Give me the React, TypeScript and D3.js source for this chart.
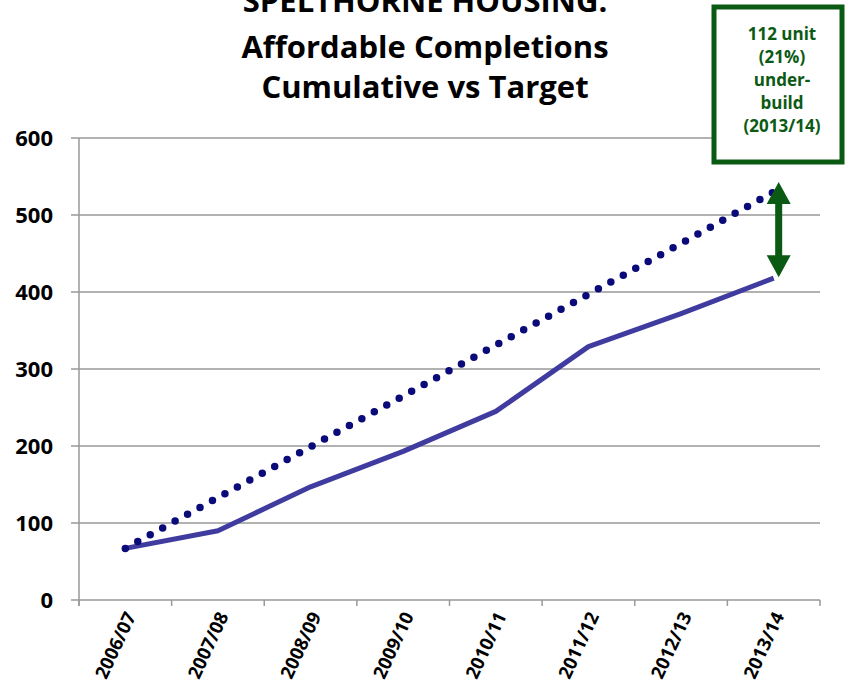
import React from "react";
import * as d3 from "d3";

const categories = ["2006/07", "2007/08", "2008/09", "2009/10", "2010/11", "2011/12", "2012/13", "2013/14"];
const actualValues = [67, 90, 147, 193, 245, 329, 372, 418];
const targetValues = [67, 133, 199, 265, 331, 397, 463, 530];
const yTicks = [0, 100, 200, 300, 400, 500, 600];
const titleLines = ["SPELTHORNE HOUSING:", "Affordable Completions", "Cumulative vs Target"];
const noteLines = ["112 unit", "(21%)", "under-", "build", "(2013/14)"];

export default function App() {
  const W = 846, H = 693;
  const left = 79, right = 820, top = 138, bottom = 600;
  const x = d3.scaleBand<string>().domain(categories).range([left, right]);
  const y = d3.scaleLinear().domain([0, 600]).range([bottom, top]);
  const cx = (c: string) => (x(c) as number) + x.bandwidth() / 2;
  const line = d3.line<number>().x((_, i) => cx(categories[i])).y((d) => y(d));
  const font = "'Open Sans', sans-serif";
  const green = "#0b5a14";
  const lastX = cx(categories[categories.length - 1]) + 5;
  const arrowTop = y(targetValues[7]) - 10;
  const arrowBot = y(actualValues[7]) - 1;
  const hw = 12, hh = 22, sw = 3.5;
  const arrowPath = `M${lastX},${arrowTop} L${lastX + hw},${arrowTop + hh} L${lastX + sw},${arrowTop + hh} L${lastX + sw},${arrowBot - hh} L${lastX + hw},${arrowBot - hh} L${lastX},${arrowBot} L${lastX - hw},${arrowBot - hh} L${lastX - sw},${arrowBot - hh} L${lastX - sw},${arrowTop + hh} L${lastX - hw},${arrowTop + hh} Z`;
  const titleY = [1, 47, 87];
  return (
    <svg width={W} height={H} style={{ position: "absolute", left: 0, top: 0, background: "#fff" }}>
      {yTicks.map((t) => (
        <line key={t} x1={left - 8} x2={right} y1={y(t)} y2={y(t)} stroke="#999" strokeWidth={1.5} />
      ))}
      <line x1={left} x2={left} y1={top} y2={bottom + 6} stroke="#999" strokeWidth={1.5} />
      {categories.map((c) => (
        <line key={c} x1={x(c)} x2={x(c)} y1={bottom} y2={bottom + 6} stroke="#999" strokeWidth={1.5} />
      ))}
      <line x1={right} x2={right} y1={bottom} y2={bottom + 6} stroke="#999" strokeWidth={1.5} />
      {yTicks.map((t) => (
        <text key={t} x={53} y={y(t)} dy="0.36em" textAnchor="end" fontFamily={font} fontWeight="bold" fontSize={22} fill="#000">
          {t}
        </text>
      ))}
      {categories.map((c) => (
        <text key={c} transform={`translate(${cx(c) + 5},${bottom + 13}) rotate(-65)`} textAnchor="end" dy="0.36em" fontFamily={font} fontWeight="bold" fontSize={18.5} fill="#000">
          {c}
        </text>
      ))}
      <path d={line(actualValues) || ""} fill="none" stroke="#3f3b9f" strokeWidth={5} strokeLinejoin="round" />
      <path d={line(targetValues) || ""} fill="none" stroke="#0a0a78" strokeWidth={7.5} strokeLinecap="round" strokeDasharray="0 14.2" />
      {titleLines.map((t, i) => (
        <text key={t} x={425} y={titleY[i]} dy="0.36em" textAnchor="middle" fontFamily={font} fontWeight="bold" fontSize={31} fill="#000">
          {t}
        </text>
      ))}
      <rect x={714} y={7} width={128} height={155} fill="#fff" stroke={green} strokeWidth={5} />
      {noteLines.map((t, i) => (
        <text key={t} x={782} y={34 + i * 23} dy="0.36em" textAnchor="middle" fontFamily={font} fontWeight="bold" fontSize={17} fill={green}>
          {t}
        </text>
      ))}
      <path d={arrowPath} fill={green} />
    </svg>
  );
}
